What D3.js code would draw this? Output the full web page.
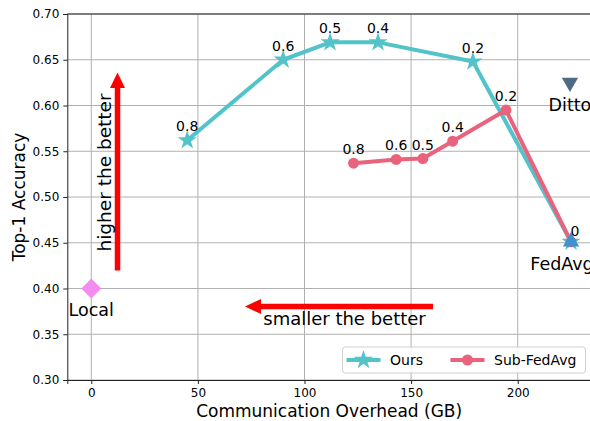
<!DOCTYPE html>
<html>
<head>
<meta charset="utf-8">
<script src="https://cdn.jsdelivr.net/npm/d3@7"></script>
<style>
  body { margin: 0; background: #fff; }
  svg { font-family: "DejaVu Sans", sans-serif; display: block; }
</style>
</head>
<body>
<svg width="590" height="421"></svg>
<script>
// data
var oursX = [45, 90, 112, 134.5, 179, 225];
var oursY = [0.562, 0.650, 0.669, 0.669, 0.648, 0.451];
var oursLabels = ["0.8", "0.6", "0.5", "0.4", "0.2", ""];

var subX = [123, 143, 155.5, 169.5, 194.5, 225];
var subY = [0.537, 0.541, 0.542, 0.561, 0.595, 0.451];
var subLabels = ["0.8", "0.6", "0.5", "0.4", "0.2", "0"];

var baselines = ["Local", "Ditto", "FedAvg"];
var baseX = [0, 224.5, 225];
var baseY = [0.400, 0.624, 0.450];

var xTicks = [0, 50, 100, 150, 200];
var yTicks = [0.30, 0.35, 0.40, 0.45, 0.50, 0.55, 0.60, 0.65, 0.70];

var svg = d3.select("svg");

var x = d3.scaleLinear().domain([-11.25, 236.25]).range([67.3, 595]);
var y = d3.scaleLinear().domain([0.30, 0.70]).range([380, 14]);

var tealC = "#52c3c8", pinkC = "#e8637b";

// grid
var grid = svg.append("g");
grid.selectAll("line.gx").data(xTicks).enter().append("line")
    .attr("x1", function(d) { return x(d); }).attr("x2", function(d) { return x(d); })
    .attr("y1", y(0.30)).attr("y2", y(0.70))
    .attr("stroke", "#b0b0b0").attr("stroke-width", 1);
grid.selectAll("line.gy").data(yTicks).enter().append("line")
    .attr("x1", x(-11.25)).attr("x2", x(236.25))
    .attr("y1", function(d) { return y(d); }).attr("y2", function(d) { return y(d); })
    .attr("stroke", "#b0b0b0").attr("stroke-width", 1);

// axes
var xAxis = svg.append("g").attr("transform", "translate(0," + y(0.30) + ")")
    .call(d3.axisBottom(x).tickValues(xTicks).tickFormat(d3.format("d")).tickSize(4).tickPadding(4));
var yAxis = svg.append("g").attr("transform", "translate(" + x(-11.25) + ",0)")
    .call(d3.axisLeft(y).tickValues(yTicks).tickFormat(d3.format(".2f")).tickSize(4).tickPadding(4));
[xAxis, yAxis].forEach(function(a) {
    a.selectAll("text").attr("font-size", 12).attr("fill", "#000").attr("font-family", "DejaVu Sans");
    a.selectAll("line").attr("stroke", "#222");
    a.select(".domain").attr("stroke", "#222");
});
svg.append("line").attr("x1", x(-11.25)).attr("x2", x(236.25))
    .attr("y1", y(0.70)).attr("y2", y(0.70)).attr("stroke", "#222");

svg.append("text").attr("x", (x(-11.25) + 595) / 2 - 2).attr("y", 417)
    .attr("text-anchor", "middle").attr("font-size", 17).text("Communication Overhead (GB)");
svg.append("text").attr("transform", "translate(25," + y(0.5) + ") rotate(-90)")
    .attr("text-anchor", "middle").attr("font-size", 17).text("Top-1 Accuracy");

// red arrows
var defs = svg.append("defs");
svg.append("line").attr("x1", 117.5).attr("x2", 117.5).attr("y1", 270.5).attr("y2", 86)
    .attr("stroke", "red").attr("stroke-width", 5.5);
svg.append("path").attr("d", "M117.5,72.5 L125,88 L110,88 Z").attr("fill", "red");
svg.append("line").attr("x1", 433).attr("x2", 258).attr("y1", 306.5).attr("y2", 306.5)
    .attr("stroke", "red").attr("stroke-width", 5.5);
svg.append("path").attr("d", "M245,306.5 L261,299 L261,314 Z").attr("fill", "red");
svg.append("text").attr("transform", "translate(110.5,172.5) rotate(-90)")
    .attr("text-anchor", "middle").attr("font-size", 18.5).text("higher the better");
svg.append("text").attr("x", 344.5).attr("y", 325)
    .attr("text-anchor", "middle").attr("font-size", 18).text("smaller the better");

var line = d3.line().x(function(d) { return x(d[0]); }).y(function(d) { return y(d[1]); });
var ours = d3.zip(oursX, oursY);
var sub = d3.zip(subX, subY);
var star = d3.symbol().type(d3.symbolStar).size(115);

// Ours
svg.append("path").datum(ours).attr("d", line).attr("fill", "none")
    .attr("stroke", tealC).attr("stroke-width", 4).attr("stroke-linejoin", "round");
svg.selectAll("path.star").data(ours).enter().append("path")
    .attr("d", star).attr("fill", tealC)
    .attr("transform", function(d) { return "translate(" + x(d[0]) + "," + y(d[1]) + ")"; });

// Sub-FedAvg
svg.append("path").datum(sub).attr("d", line).attr("fill", "none")
    .attr("stroke", pinkC).attr("stroke-width", 4).attr("stroke-linejoin", "round");
svg.selectAll("circle.sub").data(sub).enter().append("circle")
    .attr("cx", function(d) { return x(d[0]); }).attr("cy", function(d) { return y(d[1]); })
    .attr("r", 5.5).attr("fill", pinkC);

// baselines
var tri = d3.symbol().type(d3.symbolTriangle).size(115);
var dia = d3.symbol().type(d3.symbolSquare).size(200);
var bColors = ["#f48cf0", "#4f6a85", "#3d93d1"];
baselines.forEach(function(name, i) {
    var px = x(baseX[i]), py = y(baseY[i]);
    var p = svg.append("path").attr("fill", bColors[i]);
    if (name === "Local") p.attr("d", dia).attr("transform", "translate(" + px + "," + py + ") rotate(45)");
    else if (name === "Ditto") p.attr("d", tri).attr("transform", "translate(" + px + "," + (py - 1) + ") rotate(180)");
    else p.attr("d", tri).attr("transform", "translate(" + px + "," + (py - 1) + ")");
    svg.append("text").attr("x", px + (name === "FedAvg" ? -9 : 0)).attr("y", py + 27.5)
        .attr("text-anchor", "middle").attr("font-size", 17.5).text(name);
});

// point labels
function labels(data, labs, dx, dy) {
    svg.selectAll(null).data(data).enter().append("text")
        .attr("x", function(d, i) { return x(d[0]) + (labs[i] === "0" ? dx : 0); })
        .attr("y", function(d, i) { return y(d[1]) + (labs[i] === "0" ? dy : -9); })
        .attr("text-anchor", "middle").attr("font-size", 14)
        .text(function(d, i) { return labs[i]; });
}
labels(ours, oursLabels, 4, -6);
labels(sub, subLabels, 4, -6);

// legend
var lg = svg.append("g").attr("transform", "translate(342.5,347)");
lg.append("rect").attr("width", 243).attr("height", 26).attr("rx", 3)
    .attr("fill", "#fff").attr("fill-opacity", 0.8).attr("stroke", "#d0d0d0");
lg.append("line").attr("x1", 4).attr("x2", 38).attr("y1", 13).attr("y2", 13)
    .attr("stroke", tealC).attr("stroke-width", 4);
lg.append("path").attr("d", star).attr("fill", tealC).attr("transform", "translate(21,13)");
lg.append("text").attr("x", 47.5).attr("y", 18).attr("font-size", 14).text("Ours");
lg.append("line").attr("x1", 108).attr("x2", 142).attr("y1", 13).attr("y2", 13)
    .attr("stroke", pinkC).attr("stroke-width", 4);
lg.append("circle").attr("cx", 125).attr("cy", 13).attr("r", 5.5).attr("fill", pinkC);
lg.append("text").attr("x", 151.5).attr("y", 18).attr("font-size", 14).text("Sub-FedAvg");
</script>
</body>
</html>
